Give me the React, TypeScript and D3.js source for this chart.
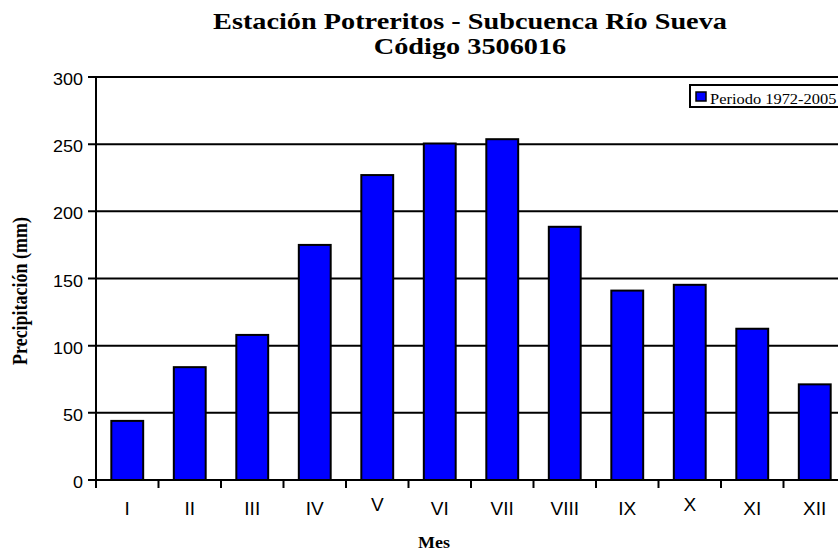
import React from "react";
import { scaleBand, scaleLinear } from "d3";

// monthly precipitation, Potreritos station
const months = ["I", "II", "III", "IV", "V", "VI", "VII", "VIII", "IX", "X", "XI", "XII"];
const precip = [44, 84, 108, 175, 227, 250.5, 253.7, 188.5, 141, 145.3, 112.6, 71.2];
const yTicks = [0, 50, 100, 150, 200, 250, 300];
const seriesName = "Periodo 1972-2005";

const W = 838;
const H = 555;
const margin = { left: 96, right: -8, top: 77, bottom: 75 };

const serif = "'Liberation Serif', 'Times New Roman', serif";
const sans = "'Liberation Sans', Arial, sans-serif";

// the original picture is a bit wider than tall, so text is stretched sideways
function SText({ x, y, sx = 1, rotate = 0, size, family, bold = false, anchor = "start", children }: any) {
  return (
    <text
      transform={`translate(${x},${y}) scale(${sx},1)${rotate ? ` rotate(${rotate})` : ""}`}
      textAnchor={anchor}
      fontFamily={family}
      fontWeight={bold ? "bold" : "normal"}
      fontSize={size}
    >
      {children}
    </text>
  );
}

export default function App() {
  const x0 = margin.left;
  const x1 = W - margin.right;
  const y0 = H - margin.bottom;
  const y1 = margin.top;

  const x = scaleBand<string>()
    .domain(months)
    .range([x0, x1])
    .paddingInner(0.49)
    .paddingOuter(0.245);

  const y = scaleLinear().domain([0, 300]).range([y0, y1]);

  const step = x.step();

  return (
    <svg width={W} height={H} style={{ position: "absolute", left: 0, top: 0, background: "#fff" }}>
      {/* title */}
      <SText x={470} y={29} sx={1.23} size={23} family={serif} bold anchor="middle">
        Estación Potreritos - Subcuenca Río Sueva
      </SText>
      <SText x={470} y={54} sx={1.23} size={23} family={serif} bold anchor="middle">
        Código 3506016
      </SText>

      {/* grid lines */}
      {yTicks.map(t => (
        <g key={t}>
          <line x1={x0 - 8} x2={x1} y1={y(t)} y2={y(t)} stroke="#000" strokeWidth={2} />
          <SText x={83} y={y(t) + 8} sx={1.09} size={16.5} family={sans} anchor="end">
            {t}
          </SText>
        </g>
      ))}

      {/* bars */}
      {precip.map((v, i) => (
        <rect
          key={months[i]}
          x={x(months[i])}
          y={y(v)}
          width={x.bandwidth()}
          height={y0 - y(v)}
          fill="#0000ff"
          stroke="#000"
          strokeWidth={2}
        />
      ))}

      {/* axes */}
      <line x1={x0} x2={x0} y1={y1} y2={y0 + 1} stroke="#000" strokeWidth={2} />
      <line x1={x0 - 8} x2={x1} y1={y0} y2={y0} stroke="#000" strokeWidth={2} />
      {months.map((m, i) => (
        <line
          key={"t" + m}
          x1={x0 + i * step}
          x2={x0 + i * step}
          y1={y0}
          y2={y0 + 8}
          stroke="#000"
          strokeWidth={2}
        />
      ))}
      {months.map(m => (
        <SText
          key={"l" + m}
          x={(x(m) as number) + x.bandwidth() / 2}
          y={m === "V" || m === "X" ? y0 + 31 : y0 + 35}
          sx={1.03}
          size={18.5}
          family={sans}
          anchor="middle"
        >
          {m}
        </SText>
      ))}

      {/* axis titles */}
      <SText x={434} y={548} sx={1.06} size={17} family={serif} bold anchor="middle">
        Mes
      </SText>
      <SText x={27} y={291} sx={1.18} rotate={-90} size={18} family={serif} bold anchor="middle">
        Precipitación (mm)
      </SText>

      {/* legend */}
      <rect x={690} y={85} width={160} height={22} fill="#fff" stroke="#000" strokeWidth={2} />
      <rect x={696} y={92} width={10} height={9} fill="#0000ff" stroke="#000" strokeWidth={1.5} />
      <SText x={710} y={103.5} sx={1.06} size={15.5} family={serif}>
        {seriesName}
      </SText>
    </svg>
  );
}
